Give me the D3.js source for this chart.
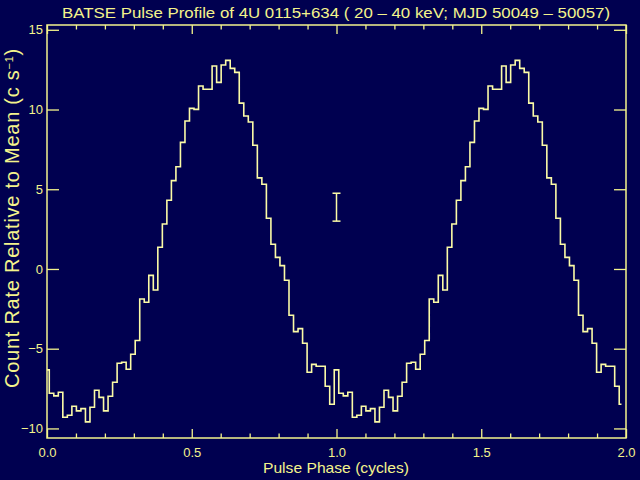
<!DOCTYPE html>
<html><head><meta charset="utf-8">
<script src="https://cdn.jsdelivr.net/npm/d3@7"></script>
<style>html,body{margin:0;padding:0;background:#000050;} svg{display:block}</style>
</head><body>
<svg id="c" width="640" height="480"></svg>
<script>
// One pulse cycle, 64 phase bins (count rate relative to mean, c/s)
const profile = [
  -6.33, -7.79, -7.96, -7.73, -9.30, -9.17, -8.61, -8.90,
  -8.76, -9.59, -8.67, -7.61, -8.05, -8.90, -7.98, -7.10,
  -5.91, -5.85, -6.29, -5.35, -4.49, -1.88, -2.09, -0.40,
  -1.32,  1.36,  2.82,  4.31,  5.54,  6.41,  7.94,  9.28,
  10.07, 10.01, 11.47, 11.27, 11.27, 12.73, 11.70, 12.79,
  13.08, 12.58, 12.33, 10.40,  9.59,  9.22,  7.76,  5.71,
   5.31,  3.18,  1.55,  0.73,  0.21, -0.71, -2.90, -3.93,
  -3.74, -4.66, -6.48, -5.98, -6.10, -6.10, -7.35, -8.48
];
// The profile is shown twice (phase 0-1 and 1-2)
const cycles = [0, 1];
const xMajorTicks = [0, 0.5, 1.0, 1.5, 2.0];
const xTickLabels = ["0.0", "0.5", "1.0", "1.5", "2.0"];
const xMinorTicks = [0.1,0.2,0.3,0.4,0.6,0.7,0.8,0.9,1.1,1.2,1.3,1.4,1.6,1.7,1.8,1.9];
const yTicks = [-10, -5, 0, 5, 10, 15];
const yTickLabels = ["\u221210", "\u22125", "0", "5", "10", "15"];
const errorBar = {phase: 1.0, low: 3.0, high: 4.75};
const titleText = "BATSE Pulse Profile of 4U 0115+634 ( 20 \u2013 40 keV; MJD 50049 \u2013 50057)";
const xLabelText = "Pulse Phase (cycles)";

const AX = "#f4f48c", LINE = "#fbfba6";
const svg = d3.select("#c");
const L = 47, R = 626, T = 25, B = 438;
const x = d3.scaleLinear().domain([0, 2]).range([L, R]);
const y = d3.scaleLinear().domain([-10.6, 15.3]).range([B, T]);

const series = cycles.flatMap(c => profile.map((v, i) => ({phase: c + i / profile.length, value: v})));

// curve
svg.append("path")
  .datum(series)
  .attr("fill", "none")
  .attr("stroke", LINE)
  .attr("stroke-width", 1.6)
  .attr("d", d3.line().x(d => x(d.phase)).y(d => y(d.value)).curve(d3.curveStep));

// error bar
const eb = svg.append("g").attr("stroke", LINE).attr("stroke-width", 1.5);
eb.append("line").attr("x1", x(errorBar.phase)).attr("x2", x(errorBar.phase))
  .attr("y1", y(errorBar.low)).attr("y2", y(errorBar.high));
[errorBar.low, errorBar.high].forEach(v => {
  eb.append("line").attr("x1", x(errorBar.phase) - 4).attr("x2", x(errorBar.phase) + 4)
    .attr("y1", y(v)).attr("y2", y(v));
});

function styleAxis(g) {
  g.select(".domain").remove();
  g.selectAll(".tick line").attr("stroke", AX).attr("stroke-width", 1.3);
  g.selectAll(".tick text").attr("fill", AX).attr("font-family", "Liberation Sans, Arial, sans-serif").attr("font-size", 13);
}

svg.append("g").attr("transform", `translate(0,${B})`)
  .call(d3.axisBottom(x).tickValues(xMajorTicks).tickSizeInner(-9).tickSizeOuter(0)
    .tickPadding(10).tickFormat((d, i) => xTickLabels[i])).call(styleAxis);
svg.append("g").attr("transform", `translate(0,${B})`)
  .call(d3.axisBottom(x).tickValues(xMinorTicks).tickSizeInner(-4.5).tickSizeOuter(0).tickFormat("")).call(styleAxis);
svg.append("g").attr("transform", `translate(0,${T})`)
  .call(d3.axisTop(x).tickValues(xMajorTicks).tickSizeInner(-9).tickSizeOuter(0).tickFormat("")).call(styleAxis);
svg.append("g").attr("transform", `translate(0,${T})`)
  .call(d3.axisTop(x).tickValues(xMinorTicks).tickSizeInner(-4.5).tickSizeOuter(0).tickFormat("")).call(styleAxis);
svg.append("g").attr("transform", `translate(${L},0)`)
  .call(d3.axisLeft(y).tickValues(yTicks).tickSizeInner(-12).tickSizeOuter(0)
    .tickPadding(4).tickFormat((d, i) => yTickLabels[i])).call(styleAxis);
svg.append("g").attr("transform", `translate(${R},0)`)
  .call(d3.axisRight(y).tickValues(yTicks).tickSizeInner(-12).tickSizeOuter(0).tickFormat("")).call(styleAxis);

// frame
svg.append("rect").attr("x", L).attr("y", T).attr("width", R - L).attr("height", B - T)
  .attr("fill", "none").attr("stroke", AX).attr("stroke-width", 1.5);

// title
svg.append("text").attr("x", 62).attr("y", 18)
  .attr("fill", AX).attr("font-family", "Liberation Sans, Arial, sans-serif").attr("font-size", 15)
  .attr("textLength", 548).attr("lengthAdjust", "spacingAndGlyphs")
  .text(titleText);

// x label
svg.append("text").attr("x", 263).attr("y", 473)
  .attr("fill", AX).attr("font-family", "Liberation Sans, Arial, sans-serif").attr("font-size", 15)
  .attr("textLength", 146).attr("lengthAdjust", "spacingAndGlyphs")
  .text(xLabelText);

// y label
const yl = svg.append("text")
  .attr("transform", "translate(19,218) rotate(-90)")
  .attr("text-anchor", "middle")
  .attr("fill", AX).attr("font-family", "Liberation Sans, Arial, sans-serif").attr("font-size", 20)
  .attr("letter-spacing", 0.75);
yl.append("tspan").text("Count Rate Relative to Mean (c s");
yl.append("tspan").attr("font-size", 11).attr("dy", -6).text("\u22121");
yl.append("tspan").attr("dy", 6).text(")");
</script>
</body></html>
